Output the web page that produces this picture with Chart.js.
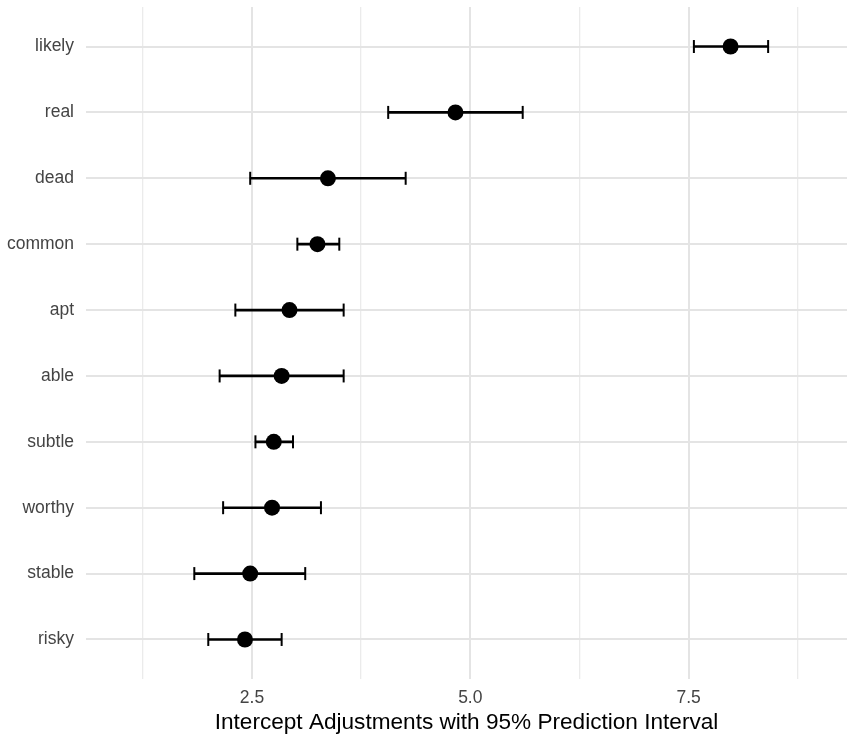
<!DOCTYPE html>
<html>
<head>
<meta charset="utf-8">
<script src="https://cdn.jsdelivr.net/npm/chart.js@4/dist/chart.umd.min.js"></script>
<style>
  html, body { margin: 0; padding: 0; background: #ffffff; }
  #wrap { width: 850px; height: 734px; }
</style>
</head>
<body>
<div id="wrap"><canvas id="c" width="850" height="734"></canvas></div>
<script>
// ---- data ----
const categories = ["likely", "real", "dead", "common", "apt", "able", "subtle", "worthy", "stable", "risky"];
const estimates  = [7.98, 4.83, 3.37, 3.25, 2.93, 2.84, 2.75, 2.73, 2.48, 2.42];
const lowerBound = [7.56, 4.06, 2.48, 3.02, 2.31, 2.13, 2.54, 2.17, 1.84, 2.00];
const upperBound = [8.41, 5.60, 4.26, 3.50, 3.55, 3.55, 2.97, 3.29, 3.11, 2.84];
const xGridValues = [1.25, 2.5, 3.75, 5.0, 6.25, 7.5, 8.75];
const xLabelValues = [2.5, 5.0, 7.5];
const axisTitle = "Intercept Adjustments with 95% Prediction Interval";

// ---- datasets built from the arrays ----
const barData = categories.map((c, i) => ({ x: [lowerBound[i], upperBound[i]], y: i }));
const capData = [];
categories.forEach((c, i) => {
  capData.push({ x: lowerBound[i], y: i });
  capData.push({ x: upperBound[i], y: i });
});
const pointData = categories.map((c, i) => ({ x: estimates[i], y: i }));

const FONT = "'Liberation Sans', Arial, Helvetica, sans-serif";

function zeroPadding(axis) {
  axis.paddingTop = 0; axis.paddingBottom = 0;
  axis.paddingLeft = 0; axis.paddingRight = 0;
}

new Chart(document.getElementById('c'), {
  type: 'scatter',
  data: {
    datasets: [
      {
        type: 'bar',
        indexAxis: 'y',
        data: barData,
        backgroundColor: '#000000',
        borderWidth: 0,
        barThickness: 2,
        order: 3
      },
      {
        type: 'scatter',
        data: capData,
        pointStyle: 'line',
        rotation: 90,
        radius: 6.5,
        hoverRadius: 6.5,
        borderColor: '#000000',
        borderWidth: 2,
        order: 2
      },
      {
        type: 'scatter',
        data: pointData,
        pointStyle: 'circle',
        radius: 8,
        hoverRadius: 8,
        backgroundColor: '#000000',
        borderColor: '#000000',
        borderWidth: 0,
        order: 1
      }
    ]
  },
  options: {
    responsive: false,
    animation: false,
    layout: { autoPadding: false, padding: { top: 7, right: 3, bottom: 0, left: 0 } },
    plugins: { legend: { display: false }, tooltip: { enabled: false } },
    scales: {
      x: {
        type: 'linear',
        position: 'bottom',
        min: 0.6,
        max: 9.313,
        offset: false,
        afterBuildTicks: (axis) => { axis.ticks = xGridValues.map(v => ({ value: v })); },
        afterFit: (axis) => { axis.height = 55; zeroPadding(axis); },
        border: { display: false },
        grid: {
          offset: false,
          drawTicks: false,
          color: (ctx) => xLabelValues.includes(ctx.tick && ctx.tick.value) ? '#e4e4e4' : '#ebebeb',
          lineWidth: (ctx) => xLabelValues.includes(ctx.tick && ctx.tick.value) ? 2 : 1.3
        },
        ticks: {
          autoSkip: false,
          maxRotation: 0,
          padding: 9,
          color: '#444444',
          font: { family: FONT, size: 17.5 },
          callback: (v) => xLabelValues.includes(v) ? v.toFixed(1) : ''
        },
        title: {
          display: true,
          text: axisTitle,
          color: '#000000',
          font: { family: FONT, size: 22.6 },
          padding: { top: 0, bottom: -2 }
        }
      },
      y: {
        type: 'linear',
        position: 'left',
        min: -0.6,
        max: 9.6,
        reverse: true,
        offset: false,
        afterBuildTicks: (axis) => { axis.ticks = categories.map((c, i) => ({ value: i })); },
        afterFit: (axis) => { axis.width = 86; zeroPadding(axis); },
        border: { display: false },
        grid: { offset: false, drawTicks: false, color: '#e4e4e4', lineWidth: 2 },
        ticks: {
          autoSkip: false,
          padding: 12,
          color: '#444444',
          font: { family: FONT, size: 17.5 },
          callback: (v) => categories[v] !== undefined ? categories[v] : ''
        }
      }
    }
  }
});
</script>
</body>
</html>
